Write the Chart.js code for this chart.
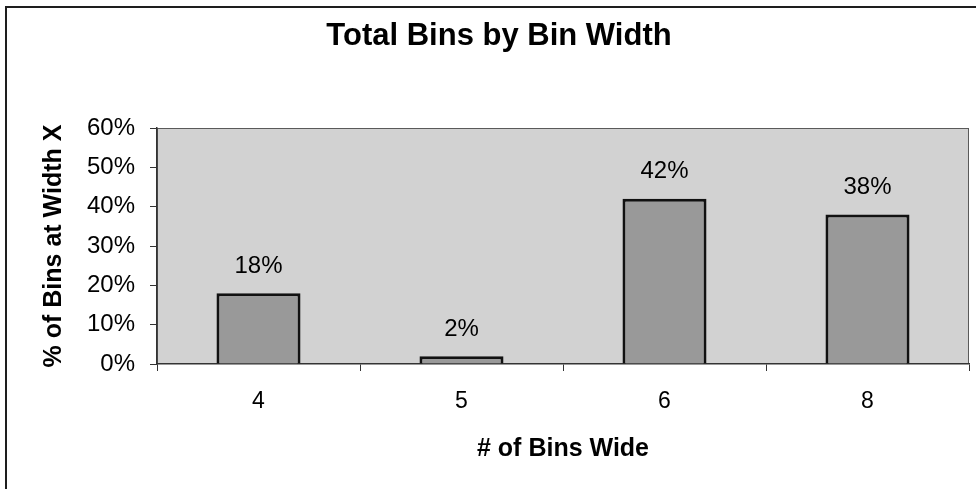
<!DOCTYPE html>
<html>
<head>
<meta charset="utf-8">
<script src="https://cdn.jsdelivr.net/npm/chart.js@4/dist/chart.umd.min.js"></script>
<style>
  html, body { margin: 0; padding: 0; background: #fff; }
  canvas { display: block; }
</style>
</head>
<body>
<canvas id="binChart" width="976" height="489"></canvas>
<script>
// Bin widths and the share of bins at each width (percent)
const categories = ['4', '5', '6', '8'];
const binShares = [18, 2, 42, 38];
const yTickMax = 60;
const yTickStep = 10;

const FONT = "'Liberation Sans', Arial, Helvetica, sans-serif";
Chart.defaults.font.family = FONT;
Chart.defaults.color = '#000';

// White page, frame line and the grey plot panel
const panelPlugin = {
  id: 'panel',
  beforeDraw(chart) {
    const { ctx, chartArea: a, width, height } = chart;
    ctx.save();
    ctx.fillStyle = '#ffffff';
    ctx.fillRect(0, 0, width, height);
    ctx.strokeStyle = '#1e1e1e';
    ctx.lineWidth = 2;
    ctx.beginPath();
    ctx.moveTo(6, height + 2);
    ctx.lineTo(6, 7);
    ctx.lineTo(width + 2, 7);
    ctx.stroke();
    ctx.fillStyle = '#d2d2d2';
    ctx.fillRect(a.left, a.top, a.right - a.left, a.bottom - a.top);
    ctx.strokeStyle = '#5a5a5a';
    ctx.lineWidth = 1;
    ctx.strokeRect(a.left + 0.5, a.top + 0.5, a.right - a.left - 1, a.bottom - a.top - 1);
    ctx.restore();
  }
};

// Percentage printed above each bar
const valueLabels = {
  id: 'valueLabels',
  afterDatasetsDraw(chart) {
    const { ctx } = chart;
    const meta = chart.getDatasetMeta(0);
    ctx.save();
    ctx.font = '24px ' + FONT;
    ctx.fillStyle = '#000';
    ctx.textAlign = 'center';
    ctx.textBaseline = 'middle';
    meta.data.forEach((bar, i) => {
      ctx.fillText(binShares[i] + '%', bar.x, bar.y - 27);
    });
    ctx.restore();
  }
};

new Chart(document.getElementById('binChart'), {
  type: 'bar',
  data: {
    labels: categories,
    datasets: [{
      data: binShares,
      backgroundColor: '#999999',
      borderColor: '#111111',
      borderWidth: 3,
      categoryPercentage: 1,
      barPercentage: 0.414
    }]
  },
  options: {
    responsive: false,
    animation: false,
    devicePixelRatio: 1,
    layout: { padding: { left: 29, right: 7, top: 0, bottom: 0 } },
    plugins: {
      legend: { display: false },
      tooltip: { enabled: false },
      title: {
        display: true,
        text: 'Total Bins by Bin Width',
        color: '#000',
        font: { size: 31, weight: 'bold' },
        padding: { top: 18, bottom: 72.8 }
      }
    },
    scales: {
      x: {
        grid: { display: true, drawOnChartArea: false, offset: true, tickLength: 7, color: '#333', lineWidth: 1 },
        border: { display: true, color: '#333', width: 1.5 },
        ticks: { font: { size: 23 }, color: '#000', padding: 17 },
        title: {
          display: true,
          text: '# of Bins Wide',
          color: '#000',
          font: { size: 25, weight: 'bold' },
          padding: { top: 0, bottom: 25 }
        },
        afterFit(scale) { scale.height = 125; }
      },
      y: {
        min: 0,
        max: yTickMax,
        grid: { display: true, drawOnChartArea: false, tickLength: 7, color: '#333', lineWidth: 1 },
        border: { display: true, color: '#333', width: 1.5 },
        ticks: {
          stepSize: yTickStep,
          font: { size: 24 },
          color: '#000',
          padding: 15,
          callback: v => v + '%'
        },
        title: {
          display: true,
          text: '% of Bins at Width X',
          color: '#000',
          font: { size: 25, weight: 'bold' },
          padding: { top: 10, bottom: 0 }
        },
        afterFit(scale) { scale.width = 128; }
      }
    }
  },
  plugins: [panelPlugin, valueLabels]
});
</script>
</body>
</html>
